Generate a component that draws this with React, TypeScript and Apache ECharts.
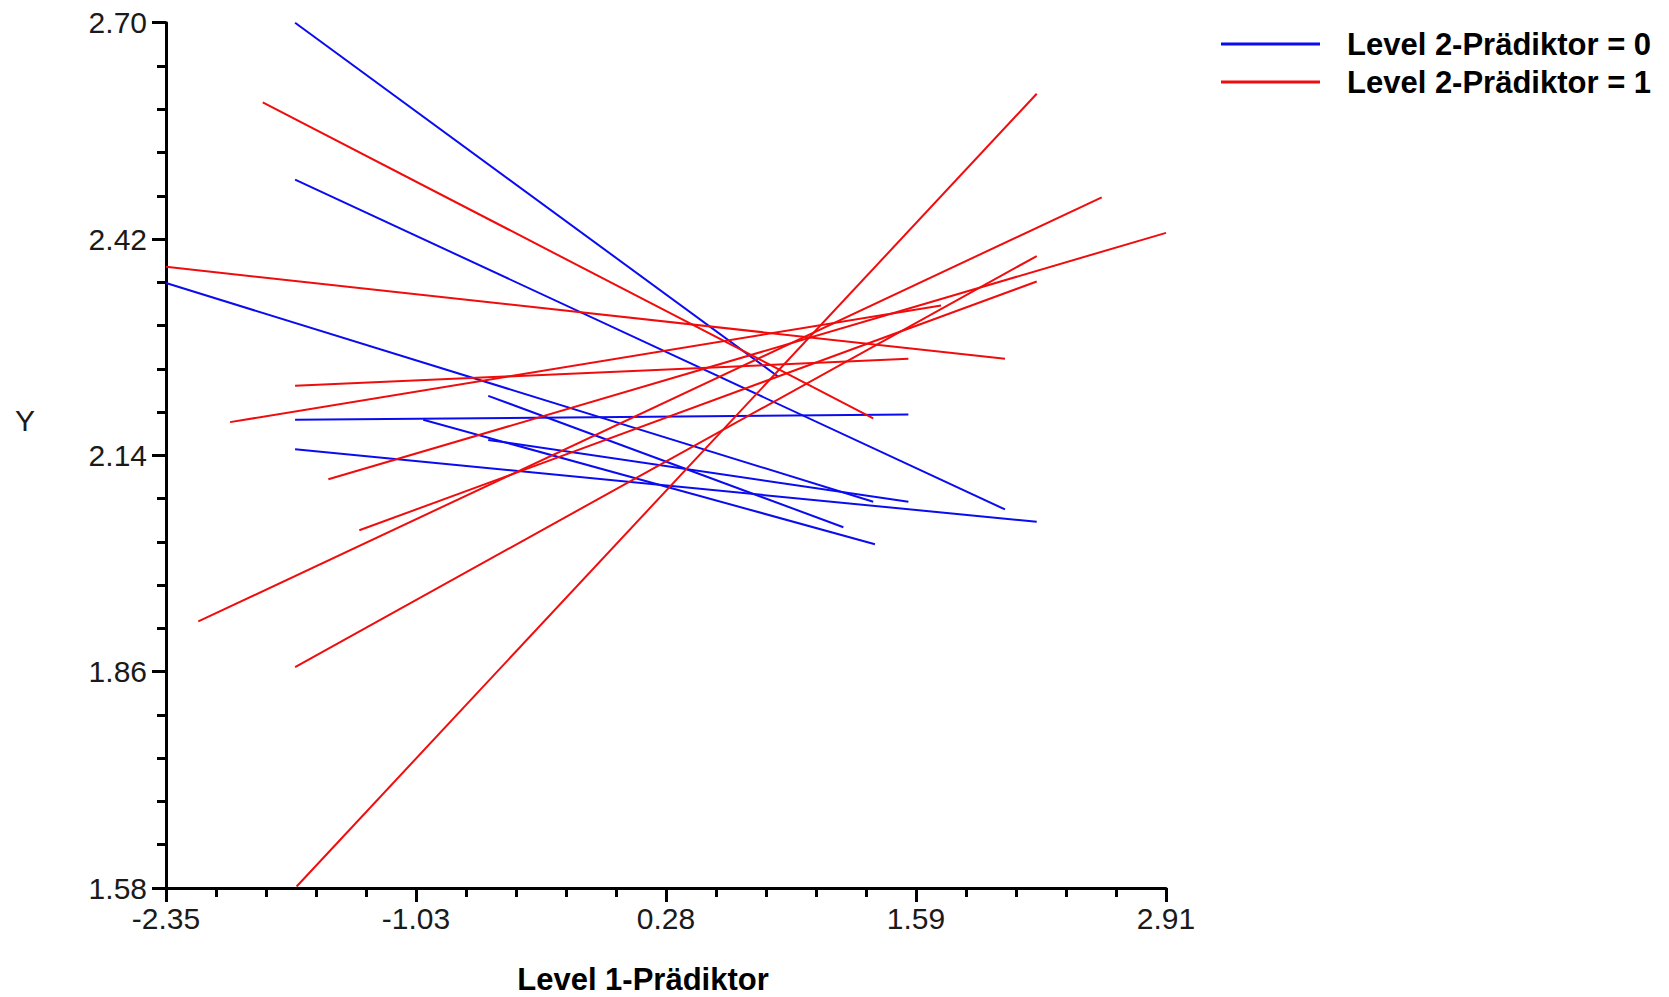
import React, { useEffect, useRef } from "react";
import * as echarts from "echarts";

// Axis ticks (major) and their printed labels
const xTickValues = [-2.35, -1.035, 0.28, 1.595, 2.91];
const xTickLabels = ["-2.35", "-1.03", "0.28", "1.59", "2.91"];
const yTickValues = [1.58, 1.86, 2.14, 2.42, 2.7];
const yTickLabels = ["1.58", "1.86", "2.14", "2.42", "2.70"];
const minorPerInterval = 4;

const seriesNames = ["Level 2-Prädiktor = 0", "Level 2-Prädiktor = 1"];
const seriesColors = ["#0b0bef", "#f00c0c"];

const xAxisTitle = "Level 1-Prädiktor";
const yAxisTitle = "Y";

// each line: [x start, y start, x end, y end]
const group0Lines = [
  [-1.671, 2.7, 0.869, 2.242],
  [-1.671, 2.497, 2.063, 2.07],
  [-2.35, 2.363, 1.37, 2.08],
  [-1.671, 2.186, 1.555, 2.193],
  [-1.671, 2.148, 2.23, 2.054],
  [-0.997, 2.186, 1.379, 2.025],
  [-0.655, 2.217, 1.213, 2.047],
  [-0.655, 2.16, 1.555, 2.08],
];
const group1Lines = [
  [-2.35, 2.384, 2.063, 2.265],
  [-1.841, 2.597, 1.37, 2.188],
  [-1.671, 2.23, 1.555, 2.265],
  [-2.013, 2.183, 1.727, 2.334],
  [-1.496, 2.109, 2.91, 2.428],
  [-1.333, 2.043, 2.23, 2.365],
  [-2.18, 1.925, 2.572, 2.474],
  [-1.671, 1.866, 2.23, 2.398],
  [-1.663, 1.582, 2.23, 2.608],
];

const FONT = "'Liberation Sans', Arial, Helvetica, sans-serif";

function minorsOf(majors: number[]): number[] {
  const out: number[] = [];
  for (let i = 0; i < majors.length - 1; i++) {
    const step = (majors[i + 1] - majors[i]) / (minorPerInterval + 1);
    for (let k = 1; k <= minorPerInterval; k++) out.push(majors[i] + k * step);
  }
  return out;
}

function labelFor(values: number[], labels: string[]) {
  return (v: number) => {
    let best = 0;
    for (let i = 1; i < values.length; i++) {
      if (Math.abs(values[i] - v) < Math.abs(values[best] - v)) best = i;
    }
    return labels[best];
  };
}

function buildOption() {
  const lineSeries: any[] = [];
  const groups = [group0Lines, group1Lines];
  groups.forEach((lines, g) => {
    lines.forEach((l) => {
      lineSeries.push({
        type: "line",
        name: seriesNames[g],
        xAxisIndex: 0,
        yAxisIndex: 0,
        data: [
          [l[0], l[1]],
          [l[2], l[3]],
        ],
        symbol: "none",
        silent: true,
        color: seriesColors[g],
        lineStyle: { color: seriesColors[g], width: 2 },
        z: 2,
      });
    });
  });

  const xMin = xTickValues[0];
  const xMax = xTickValues[xTickValues.length - 1];
  const yMin = yTickValues[0];
  const yMax = yTickValues[yTickValues.length - 1];

  const labelStyle = { fontSize: 30, color: "#1a1a1a", fontFamily: FONT };

  return {
    animation: false,
    backgroundColor: "#ffffff",
    grid: { left: 166, right: 503, top: 22.7, bottom: 109 },
    legend: {
      data: seriesNames,
      orient: "vertical",
      left: 1221,
      top: 28,
      padding: 0,
      icon: "rect",
      itemWidth: 99,
      itemHeight: 3,
      itemGap: 6,
      selectedMode: false,
      textStyle: {
        fontSize: 31,
        fontWeight: "bold",
        color: "#000",
        fontFamily: FONT,
        lineHeight: 32,
        padding: [0, 0, 0, 22],
      },
    },
    xAxis: [
      {
        type: "value",
        min: xMin,
        max: xMax,
        position: "bottom",
        axisLine: { show: true, onZero: false, lineStyle: { color: "#000", width: 3 } },
        axisTick: {
          show: true,
          customValues: xTickValues,
          length: 14,
          lineStyle: { color: "#000", width: 3 },
        },
        axisLabel: {
          customValues: xTickValues,
          formatter: labelFor(xTickValues, xTickLabels),
          margin: 15,
          showMinLabel: true,
          showMaxLabel: true,
          ...labelStyle,
        },
        splitLine: { show: false },
      },
      {
        type: "value",
        min: xMin,
        max: xMax,
        position: "bottom",
        axisLine: { show: false, onZero: false },
        axisTick: {
          show: true,
          customValues: minorsOf(xTickValues),
          length: 9,
          lineStyle: { color: "#000", width: 3 },
        },
        axisLabel: { show: false },
        splitLine: { show: false },
      },
    ],
    yAxis: [
      {
        type: "value",
        min: yMin,
        max: yMax,
        position: "left",
        axisLine: { show: true, onZero: false, lineStyle: { color: "#000", width: 3 } },
        axisTick: {
          show: true,
          customValues: yTickValues,
          length: 14,
          lineStyle: { color: "#000", width: 3 },
        },
        axisLabel: {
          customValues: yTickValues,
          formatter: labelFor(yTickValues, yTickLabels),
          margin: 19,
          showMinLabel: true,
          showMaxLabel: true,
          ...labelStyle,
        },
        splitLine: { show: false },
      },
      {
        type: "value",
        min: yMin,
        max: yMax,
        position: "left",
        axisLine: { show: false, onZero: false },
        axisTick: {
          show: true,
          customValues: minorsOf(yTickValues),
          length: 9,
          lineStyle: { color: "#000", width: 3 },
        },
        axisLabel: { show: false },
        splitLine: { show: false },
      },
    ],
    graphic: [
      {
        type: "text",
        x: 25,
        y: 420,
        style: {
          text: yAxisTitle,
          fontSize: 30,
          fontFamily: FONT,
          fill: "#1a1a1a",
          align: "center",
          verticalAlign: "middle",
        },
      },
      {
        type: "text",
        x: 643,
        y: 979,
        style: {
          text: xAxisTitle,
          fontSize: 31,
          fontWeight: "bold",
          fontFamily: FONT,
          fill: "#000",
          align: "center",
          verticalAlign: "middle",
        },
      },
    ],
    series: lineSeries,
  };
}

export default function App() {
  const ref = useRef<HTMLDivElement>(null);
  useEffect(() => {
    if (!ref.current) return;
    const chart = echarts.init(ref.current, null, { renderer: "svg" });
    chart.setOption(buildOption() as any);
    return () => chart.dispose();
  }, []);
  return (
    <div
      ref={ref}
      style={{
        position: "absolute",
        left: 0,
        top: 0,
        width: 1669,
        height: 997,
        background: "#ffffff",
      }}
    />
  );
}
